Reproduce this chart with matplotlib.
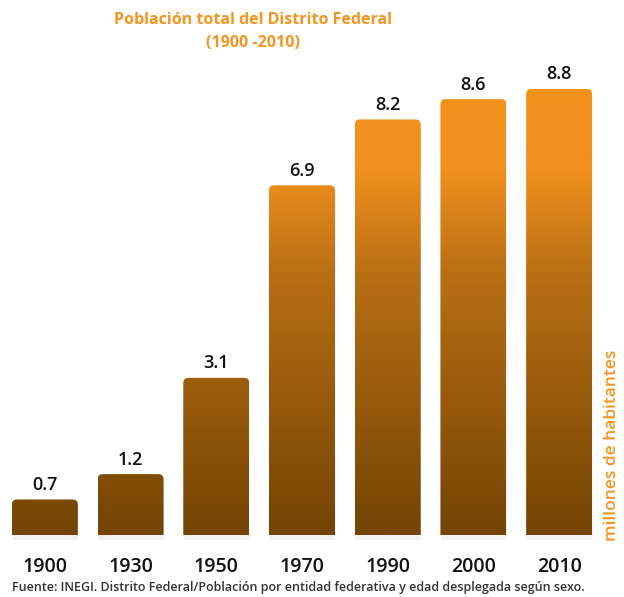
import numpy as np
import matplotlib
matplotlib.use("Agg")
import matplotlib.pyplot as plt
from matplotlib.patches import FancyBboxPatch
from matplotlib.colors import LinearSegmentedColormap

plt.rcParams['font.family'] = ['Open Sans', 'DejaVu Sans']

# datos
anios = ['1900', '1930', '1950', '1970', '1990', '2000', '2010']
poblacion = [0.7, 1.2, 3.1, 6.9, 8.2, 8.6, 8.8]

naranja = '#F7941D'
cafe = '#734404'
cmap = LinearSegmentedColormap.from_list('grad', [(0, cafe), (0.5, '#B86F14'), (0.7, '#F0901D'), (1, naranja)])

fig = plt.figure(figsize=(6.24, 5.97), dpi=100)
ax = fig.add_axes([2 / 624, 57 / 597, 600 / 624, 527 / 597])
ymin, ymax = -0.1, 10.3
ax.set_xlim(-0.5, len(anios) - 0.5)
ax.set_ylim(ymin, ymax)

ancho = 0.77
aspecto = (600 / 7) / (527 / (ymax - ymin))
grad = np.linspace(0, 1, 256).reshape(-1, 1)
for i, v in enumerate(poblacion):
    x0 = i - ancho / 2
    # sombra
    sombra = FancyBboxPatch((x0 + 0.005, ymin - 0.03), ancho, v - ymin,
                            boxstyle="round,pad=0,rounding_size=0.06",
                            mutation_aspect=aspecto, fc='#000000', ec='none',
                            alpha=0.06, zorder=1)
    ax.add_patch(sombra)
    barra = FancyBboxPatch((x0, ymin), ancho, v - ymin,
                           boxstyle="round,pad=0,rounding_size=0.06",
                           mutation_aspect=aspecto, fc='none', ec='none', zorder=2)
    ax.add_patch(barra)
    im = ax.imshow(grad, cmap=cmap, aspect='auto', origin='lower',
                   extent=(x0, x0 + ancho, 0, 10.3), zorder=2,
                   interpolation='bilinear')
    im.set_clip_path(barra)
    ax.annotate(f'{v}', (i, v), xytext=(0, 4), textcoords='offset points',
                ha='center', va='bottom', fontsize=13, fontweight='semibold',
                color='#111111')

ax.set_xticks(range(len(anios)))
ax.set_xticklabels(anios, fontsize=14, fontweight='semibold', color='#111111')
ax.tick_params(axis='x', length=0, pad=12)
ax.set_yticks([])
for s in ax.spines.values():
    s.set_visible(False)
ax.set_xlim(-0.5, len(anios) - 0.5)
ax.set_ylim(ymin, ymax)

fig.text(253 / 624, 1 - 20 / 597, 'Población total del Distrito Federal',
         ha='center', va='center', fontsize=11.5, fontweight='bold', color=naranja)
fig.text(253 / 624, 1 - 43 / 597, '(1900 -2010)',
         ha='center', va='center', fontsize=11.5, fontweight='bold', color=naranja)
fig.text(612 / 624, 1 - 541 / 597, 'millones de habitantes', rotation=90,
         ha='center', va='bottom', fontsize=12.5, fontweight='semibold', color=naranja)
fig.text(12 / 624, 1 - 588 / 597,
         'Fuente: INEGI. Distrito Federal/Población por entidad federativa y edad desplegada según sexo.',
         ha='left', va='center', fontsize=9, fontweight='semibold', color='#333333')

fig.savefig('out.png', dpi=100)
